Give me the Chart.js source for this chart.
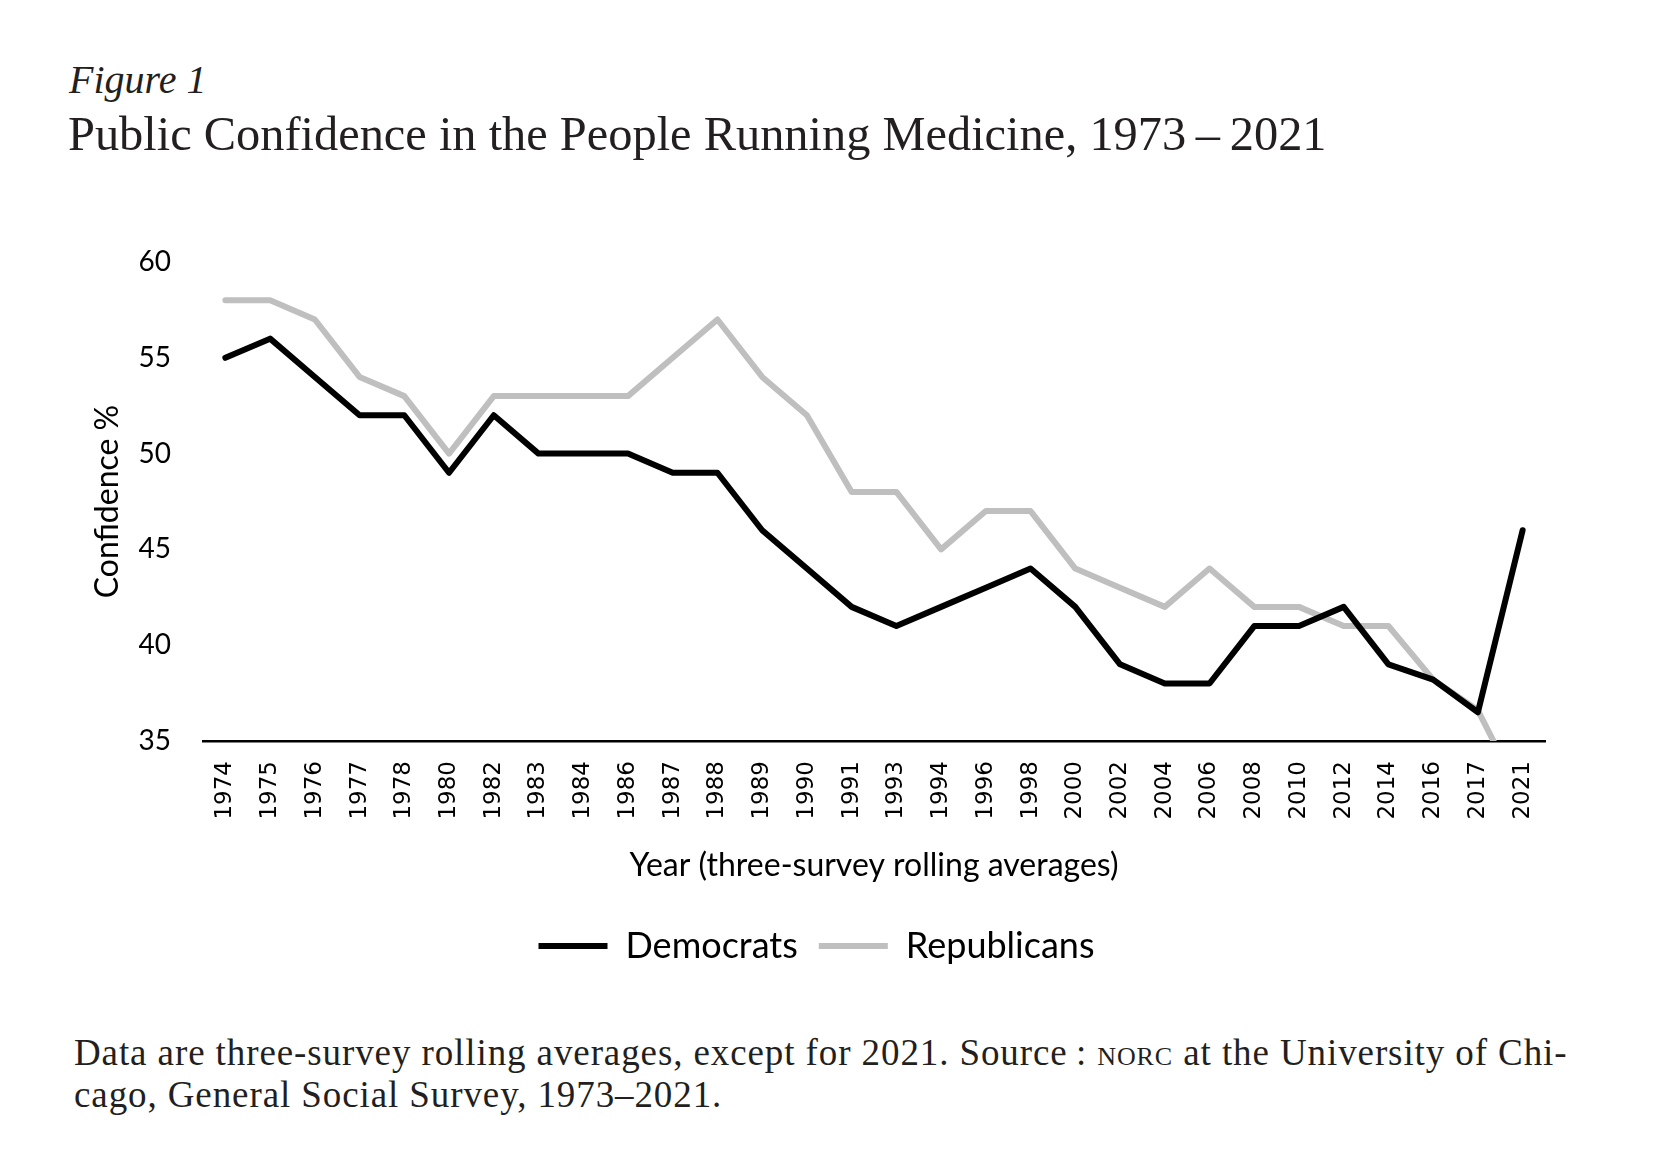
<!DOCTYPE html>
<html lang="en">
<head>
    <meta charset="UTF-8">
    <title>Public Confidence in the People Running Medicine, 1973–2021</title>
    <script src="https://cdn.jsdelivr.net/npm/chart.js"></script>
    <style>
        body { margin: 0; background: #fff; width: 1661px; height: 1173px; position: relative; overflow: hidden; }
        .fig { position: absolute; left: 69px; top: 60px; font: italic 40px/40px "Liberation Serif", serif; color: #231f20; white-space: nowrap; }
        .title { position: absolute; left: 68px; top: 110px; font: 48.4px/48px "Liberation Serif", serif; color: #231f20; white-space: nowrap; }
        .note { position: absolute; left: 74px; top: 1032px; font: 37px/42px "Liberation Serif", serif; letter-spacing: 0.9px; color: #231f20; white-space: nowrap; }
        .sc { font-variant: small-caps; }
        #wrap { position: absolute; left: 0; top: 0; width: 1661px; height: 1000px; }
    </style>
</head>
<body>

<div class="fig">Figure 1</div>
<div class="title">Public Confidence in the People Running Medicine, 1973&#8201;–&#8201;2021</div>
<div id="wrap"><canvas id="chart"></canvas></div>
<div class="note">Data are three-survey rolling averages, except for 2021. Source&#8201;: <span class="sc">norc</span> at the University of Chi-<br>cago, General Social Survey, 1973–2021.</div>

<script>
// three-survey rolling averages (last point 2021 is a single survey)
const years = ["1974","1975","1976","1977","1978","1980","1982","1983","1984","1986",
               "1987","1988","1989","1990","1991","1993","1994","1996","1998","2000",
               "2002","2004","2006","2008","2010","2012","2014","2016","2017","2021"];
const democrats   = [55,56,54,52,52,49,52,50,50,50,49,49,46,44,42,41,42,43,44,42,39,38,38,41,41,42,39,38.2,36.5,46];
const republicans = [58,58,57,54,53,50,53,53,53,53,55,57,54,52,48,48,45,47,47,44,43,42,44,42,42,41,41,38.2,36.6,32];
const yTicks = [35, 40, 45, 50, 55, 60];

new Chart(document.getElementById('chart'), {
    type: 'line',
    data: {
        labels: years,
        datasets: [
            { label: 'Democrats', data: democrats, borderColor: '#000', backgroundColor: '#000',
              borderWidth: 6, pointRadius: 0, tension: 0, borderJoinStyle: 'round', borderCapStyle: 'round', clip: 0 },
            { label: 'Republicans', data: republicans, borderColor: '#bfbfbf', backgroundColor: '#bfbfbf',
              borderWidth: 6, pointRadius: 0, tension: 0, borderJoinStyle: 'round', borderCapStyle: 'round', clip: 0 }
        ]
    },
    options: {
        responsive: true,
        maintainAspectRatio: false,
        animation: false,
        layout: { padding: { top: 262, left: 88, right: 116, bottom: 26 } },
        plugins: {
            tooltip: { enabled: false },
            legend: {
                position: 'bottom',
                labels: {
                    usePointStyle: true, pointStyle: 'line', pointStyleWidth: 69,
                    color: '#000', padding: 21,
                    font: { family: 'Lato', size: 36 }
                }
            }
        },
        scales: {
            x: {
                offset: true,
                grid: { display: false, drawTicks: false },
                border: { display: true, color: '#000', width: 2.5 },
                ticks: { autoSkip: false, minRotation: 90, maxRotation: 90, padding: 20,
                         color: '#000', font: { family: 'DejaVu Sans', size: 23 } },
                title: { display: true, text: 'Year (three-survey rolling averages)', color: '#000',
                         font: { family: 'Lato', size: 32 }, padding: { top: 0, bottom: 22.5 } },
                afterFit: s => { s.height = 166; }
            },
            y: {
                min: 35, max: 60,
                afterBuildTicks: s => { s.ticks = yTicks.map(v => ({ value: v })); },
                grid: { display: false, drawTicks: false },
                border: { display: false },
                ticks: { padding: 32, color: '#000', font: { family: 'Lato', size: 28 } },
                title: { display: true, text: 'Confidence %', color: '#000',
                         font: { family: 'Lato', size: 32 }, padding: 0 },
                afterFit: s => { s.width = 115; }
            }
        }
    }
});
</script>

</body>
</html>
